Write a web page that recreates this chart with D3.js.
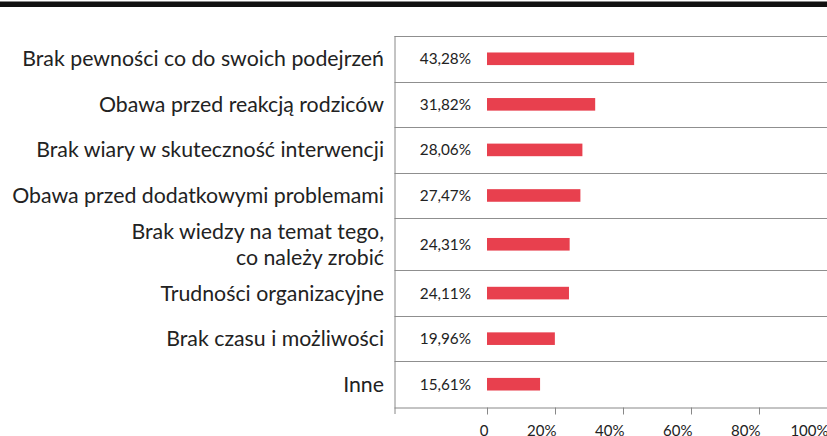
<!DOCTYPE html>
<html><head><meta charset="utf-8">
<script src="https://cdn.jsdelivr.net/npm/d3@7"></script>
<style>
html,body{margin:0;padding:0;background:#fff;}
svg{display:block;font-family:Lato,"Open Sans",sans-serif;}
</style></head>
<body>
<svg id="chart" width="827" height="436"></svg>
<script>
const categories = [
  ["Brak pewności co do swoich podejrzeń"],
  ["Obawa przed reakcją rodziców"],
  ["Brak wiary w skuteczność interwencji"],
  ["Obawa przed dodatkowymi problemami"],
  ["Brak wiedzy na temat tego,", "co należy zrobić"],
  ["Trudności organizacyjne"],
  ["Brak czasu i możliwości"],
  ["Inne"]
];
const values = [43.28, 31.82, 28.06, 27.47, 24.31, 24.11, 19.96, 15.61];
const valueLabels = ["43,28%", "31,82%", "28,06%", "27,47%", "24,31%", "24,11%", "19,96%", "15,61%"];
const tickValues = [0, 20, 40, 60, 80, 100];
const tickLabels = ["0", "20%", "40%", "60%", "80%", "100%"];

const svg = d3.select("#chart");
const W = 827;
const tableLeft = 394.5, tableTop = 36, axisY = 407;
const baseRow = 45.5, extraLine = 6.5;

// top black band
svg.append("rect").attr("x", 0).attr("y", 1.5).attr("width", W).attr("height", 5.5).attr("fill", "#111");

const x = d3.scaleLinear().domain([0, 100]).range([487, 827]);

// row layout
const rows = [];
let yCur = tableTop;
categories.forEach((c, i) => {
  const h = baseRow + (c.length - 1) * extraLine;
  rows.push({ top: yCur, h, center: yCur + h / 2, lines: c, v: values[i], lab: valueLabels[i] });
  yCur += h;
});
const k = (axisY - tableTop) / (yCur - tableTop);
rows.forEach(r => { r.top = tableTop + (r.top - tableTop) * k; r.h *= k; r.center = r.top + r.h / 2; });

// separators
const seps = [tableTop].concat(rows.slice(1).map(r => r.top));
svg.selectAll("line.sep").data(seps).enter().append("line")
  .attr("x1", tableLeft).attr("x2", W)
  .attr("y1", d => Math.round(d) + 0.5).attr("y2", d => Math.round(d) + 0.5)
  .attr("stroke", "#8f8f8f").attr("stroke-width", 1);

// left vertical line
svg.append("line").attr("x1", tableLeft + 0.5).attr("x2", tableLeft + 0.5)
  .attr("y1", tableTop).attr("y2", axisY + 7).attr("stroke", "#888");

// axis
const axis = d3.axisBottom(x).tickValues(tickValues).tickSize(7).tickFormat((d, i) => tickLabels[i]);
const ax = svg.append("g").attr("transform", `translate(0,${axisY + 0.5})`).call(axis);
ax.select(".domain").attr("d", `M${tableLeft},0.5H${W}`).attr("stroke", "#888");
ax.selectAll(".tick line").attr("stroke", "#888");
ax.selectAll(".tick text").attr("text-anchor", "end").attr("dx", 1).attr("y", 0).attr("dy", 28)
  .attr("font-size", 15).attr("font-family", "Lato").attr("fill", "#222");

// bars
svg.selectAll("rect.bar").data(rows).enter().append("rect")
  .attr("x", x(0)).attr("y", d => d.center - 6.3).attr("height", 12.6)
  .attr("width", d => x(d.v) - x(0)).attr("fill", "#e8404e");

// value labels
svg.selectAll("text.val").data(rows).enter().append("text")
  .attr("x", 471).attr("y", d => d.center + 5.5).attr("text-anchor", "end")
  .attr("font-size", 15.3).attr("fill", "#222").text(d => d.lab);

// category labels
rows.forEach(r => {
  const n = r.lines.length, lh = 26;
  r.lines.forEach((t, j) => {
    svg.append("text").attr("x", 384).attr("text-anchor", "end")
      .attr("y", r.center + 7.5 + (j - (n - 1) / 2) * lh)
      .attr("font-size", 21.3).attr("fill", "#222").text(t);
  });
});
</script>
</body></html>
